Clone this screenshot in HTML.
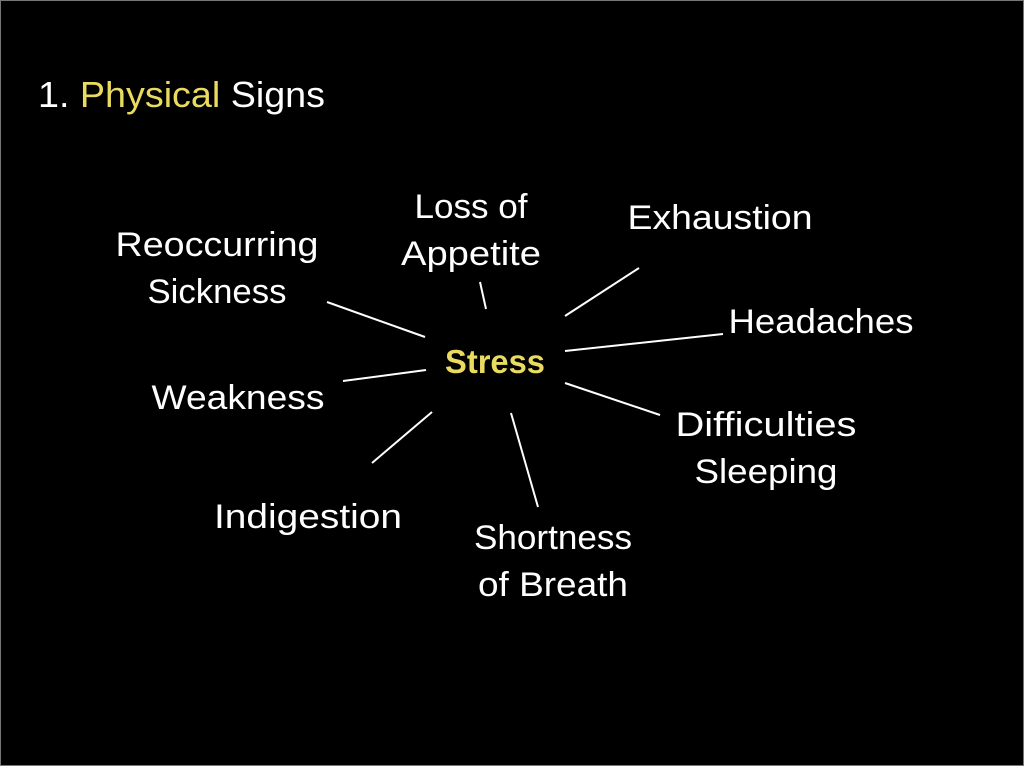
<!DOCTYPE html>
<html><head><meta charset="utf-8"><style>
html,body{margin:0;padding:0;background:#000;}
svg{display:block;}
text{font-family:"Liberation Sans",sans-serif;fill:#fff;}
</style></head><body>
<svg width="1024" height="766" viewBox="0 0 1024 766" xmlns="http://www.w3.org/2000/svg">
<rect x="0" y="0" width="1024" height="766" fill="#000"/>
<rect x="0.5" y="0.5" width="1023" height="765" fill="none" stroke="#777" stroke-width="1"/>
<text x="38" y="107" font-size="36" textLength="287" lengthAdjust="spacingAndGlyphs">1. <tspan fill="#e9da60">Physical</tspan> Signs</text>
<g stroke="#fff" stroke-width="2" fill="none">
<line x1="480" y1="282" x2="486" y2="309"/>
<line x1="639" y1="268" x2="565" y2="316"/>
<line x1="723" y1="334" x2="565" y2="351"/>
<line x1="565" y1="383" x2="660" y2="415"/>
<line x1="511" y1="413" x2="538" y2="507"/>
<line x1="432" y1="412" x2="372" y2="463"/>
<line x1="426" y1="370" x2="343" y2="381"/>
<line x1="327" y1="302" x2="425" y2="337"/>
</g>
<g font-size="34" text-anchor="middle" lengthAdjust="spacingAndGlyphs">
<text x="471" y="218" textLength="113" lengthAdjust="spacingAndGlyphs">Loss of</text>
<text x="471" y="265" textLength="140" lengthAdjust="spacingAndGlyphs">Appetite</text>
<text x="720" y="229" textLength="185" lengthAdjust="spacingAndGlyphs">Exhaustion</text>
<text x="217" y="256" textLength="203" lengthAdjust="spacingAndGlyphs">Reoccurring</text>
<text x="217" y="303" textLength="139" lengthAdjust="spacingAndGlyphs">Sickness</text>
<text x="821" y="333" textLength="185" lengthAdjust="spacingAndGlyphs">Headaches</text>
<text x="238" y="409" textLength="173" lengthAdjust="spacingAndGlyphs">Weakness</text>
<text x="766" y="436" textLength="181" lengthAdjust="spacingAndGlyphs">Difficulties</text>
<text x="766" y="483" textLength="143" lengthAdjust="spacingAndGlyphs">Sleeping</text>
<text x="308" y="528" textLength="188" lengthAdjust="spacingAndGlyphs">Indigestion</text>
<text x="553" y="549" textLength="158" lengthAdjust="spacingAndGlyphs">Shortness</text>
<text x="553" y="596" textLength="150" lengthAdjust="spacingAndGlyphs">of Breath</text>
<text x="495" y="373" font-size="33" font-weight="bold" textLength="100" lengthAdjust="spacingAndGlyphs" style="fill:#e9da60">Stress</text>
</g>
</svg>
</body></html>
